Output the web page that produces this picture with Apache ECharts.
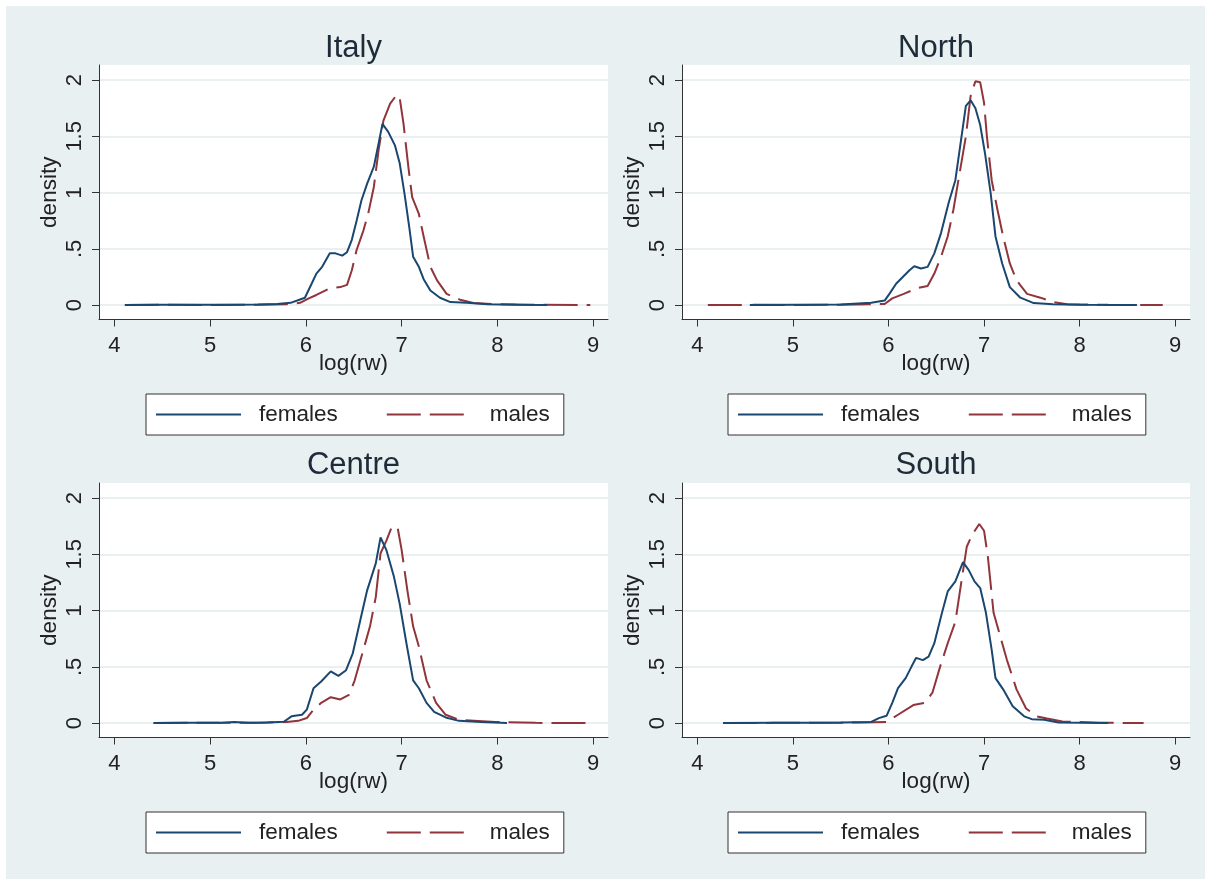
<!DOCTYPE html>
<html><head><meta charset="utf-8">
<script src="https://cdn.jsdelivr.net/npm/echarts@6/dist/echarts.min.js"></script>
<style>
html,body{margin:0;padding:0;background:#fff;}
#bg{position:absolute;left:6px;top:6px;width:1199px;height:873px;background:#e9f0f2;}
#c{position:absolute;left:0;top:0;width:1205px;height:879px;}
</style>
</head><body><div id="bg"></div><div id="c"></div>
<script>
// ---------------- data ----------------
const panelTitles = ['Italy', 'North', 'Centre', 'South'];
const seriesNames = ['females', 'males'];
const xTicks = [4, 5, 6, 7, 8, 9];
const yTicks = [0, 0.5, 1, 1.5, 2];
const xAxisTitle = 'log(rw)';
const yAxisTitle = 'density';

const italyFemales = [[4.11,0],[4.5,0.004],[4.8,0.002],[5.2,0.002],[5.5,0.006],[5.7,0.01],[5.84,0.02],[5.94,0.05],[5.99,0.065],[6.06,0.19],[6.11,0.28],[6.17,0.34],[6.25,0.46],[6.31,0.46],[6.38,0.44],[6.43,0.47],[6.48,0.58],[6.53,0.75],[6.58,0.93],[6.64,1.08],[6.71,1.23],[6.76,1.44],[6.80,1.61],[6.86,1.54],[6.93,1.42],[6.98,1.26],[7.03,0.99],[7.08,0.69],[7.12,0.43],[7.18,0.34],[7.23,0.23],[7.30,0.13],[7.40,0.065],[7.51,0.027],[7.68,0.02],[7.9,0.008],[8.2,0.003],[8.52,0]];
const italyMales = [[4.11,0],[4.5,0.003],[5.0,0.001],[5.5,0.004],[5.8,0.008],[5.94,0.02],[6.03,0.06],[6.11,0.09],[6.25,0.15],[6.36,0.16],[6.43,0.18],[6.48,0.31],[6.53,0.49],[6.60,0.66],[6.65,0.81],[6.71,1.05],[6.76,1.38],[6.81,1.64],[6.88,1.79],[6.95,1.87],[6.98,1.84],[7.02,1.61],[7.07,1.23],[7.11,0.96],[7.18,0.81],[7.23,0.61],[7.30,0.34],[7.37,0.22],[7.47,0.10],[7.61,0.048],[7.75,0.018],[8.0,0.008],[8.4,0.003],[8.97,0]];

const northFemales = [[4.55,0],[5.0,0.002],[5.5,0.005],[5.82,0.02],[5.96,0.04],[6.01,0.10],[6.08,0.19],[6.15,0.25],[6.22,0.31],[6.27,0.345],[6.34,0.325],[6.41,0.34],[6.48,0.46],[6.55,0.64],[6.63,0.91],[6.70,1.11],[6.75,1.41],[6.81,1.77],[6.86,1.82],[6.91,1.75],[6.96,1.60],[7.01,1.35],[7.07,0.99],[7.12,0.61],[7.19,0.37],[7.27,0.16],[7.38,0.066],[7.52,0.018],[7.72,0.008],[8.0,0.002],[8.6,0]];
const northMales = [[4.11,0],[4.6,0.002],[5.0,0.001],[5.5,0.004],[5.8,0.008],[5.96,0.01],[6.04,0.06],[6.16,0.10],[6.30,0.15],[6.41,0.17],[6.48,0.28],[6.55,0.43],[6.62,0.61],[6.68,0.85],[6.75,1.20],[6.81,1.50],[6.86,1.86],[6.91,1.99],[6.96,1.98],[7.00,1.80],[7.03,1.50],[7.08,1.11],[7.14,0.85],[7.20,0.61],[7.27,0.37],[7.34,0.22],[7.45,0.10],[7.59,0.066],[7.73,0.027],[7.87,0.008],[8.3,0.002],[8.87,0]];

const centreFemales = [[4.41,0],[4.8,0.002],[5.1,0.002],[5.25,0.01],[5.4,0.003],[5.6,0.005],[5.77,0.012],[5.85,0.06],[5.96,0.074],[6.01,0.12],[6.08,0.31],[6.16,0.37],[6.26,0.46],[6.34,0.42],[6.42,0.47],[6.49,0.62],[6.57,0.92],[6.64,1.18],[6.73,1.42],[6.78,1.65],[6.80,1.64],[6.84,1.54],[6.92,1.30],[6.98,1.06],[7.05,0.71],[7.12,0.38],[7.18,0.31],[7.26,0.18],[7.34,0.10],[7.46,0.05],[7.60,0.02],[7.83,0.01],[8.1,0]];
const centreMales = [[4.41,0],[4.8,0.003],[5.2,0.002],[5.5,0.004],[5.8,0.01],[5.92,0.02],[6.01,0.045],[6.08,0.12],[6.16,0.18],[6.26,0.23],[6.36,0.21],[6.45,0.25],[6.51,0.38],[6.59,0.62],[6.67,0.86],[6.73,1.12],[6.78,1.51],[6.84,1.62],[6.90,1.75],[6.96,1.73],[7.00,1.54],[7.06,1.18],[7.12,0.86],[7.18,0.68],[7.26,0.38],[7.36,0.18],[7.46,0.074],[7.60,0.03],[7.98,0.01],[8.4,0.002],[8.97,0]];

const southFemales = [[4.27,0],[4.8,0.002],[5.2,0.002],[5.5,0.005],[5.82,0.01],[5.90,0.044],[5.98,0.065],[6.04,0.18],[6.10,0.31],[6.18,0.40],[6.24,0.50],[6.29,0.58],[6.36,0.56],[6.42,0.59],[6.48,0.71],[6.56,0.98],[6.62,1.17],[6.70,1.26],[6.78,1.43],[6.84,1.36],[6.90,1.26],[6.96,1.20],[7.02,0.98],[7.08,0.65],[7.12,0.40],[7.20,0.30],[7.30,0.15],[7.42,0.06],[7.50,0.035],[7.63,0.03],[7.78,0.005],[8.3,0]];
const southMales = [[4.27,0],[4.8,0.002],[5.3,0.002],[5.7,0.005],[5.98,0.01],[6.10,0.074],[6.26,0.16],[6.38,0.18],[6.46,0.27],[6.54,0.50],[6.62,0.71],[6.70,0.90],[6.76,1.24],[6.82,1.57],[6.88,1.68],[6.95,1.77],[7.00,1.71],[7.04,1.48],[7.10,0.98],[7.16,0.80],[7.24,0.56],[7.34,0.30],[7.44,0.13],[7.55,0.06],[7.66,0.04],[7.82,0.015],[8.2,0.003],[8.67,0]];

const panelData = [
  [italyFemales, italyMales],
  [northFemales, northMales],
  [centreFemales, centreMales],
  [southFemales, southMales]
];

// ---------------- layout / style ----------------
const FONT = '"Liberation Sans", Arial, Helvetica, sans-serif';
const layout = [
  {left: 99,  top: 65,  width: 509, legendLeft: 146, legendTop: 394, titleX: 353.5, titleY: 48},
  {left: 682, top: 65,  width: 508, legendLeft: 728, legendTop: 394, titleX: 936,   titleY: 48},
  {left: 99,  top: 483, width: 509, legendLeft: 146, legendTop: 812, titleX: 353.5, titleY: 465},
  {left: 682, top: 483, width: 508, legendLeft: 728, legendTop: 812, titleX: 936,   titleY: 465}
];
const GRID_H = 254.5;
const X_MIN = 3.84, X_MAX = 9.155;
const Y_MIN = -0.128, Y_MAX = 2.134;
const colors = ['#1a476f', '#90353b'];
const DASH = [34, 9];
const AXIS_COLOR = '#333';
const TEXT_COLOR = '#222';

const grids = [], xAxes = [], yAxes = [], series = [], legends = [], graphics = [];

layout.forEach((L, i) => {
  grids.push({
    left: L.left, top: L.top, width: L.width, height: GRID_H,
    show: true, backgroundColor: '#ffffff', borderWidth: 0,
    containLabel: false, outerBoundsMode: 'none'
  });
  xAxes.push({
    gridIndex: i, type: 'value', min: X_MIN, max: X_MAX,
    axisLine: {show: true, onZero: false, lineStyle: {color: AXIS_COLOR, width: 1}},
    axisTick: {show: true, customValues: xTicks, length: 7, lineStyle: {color: AXIS_COLOR, width: 1}},
    axisLabel: {customValues: xTicks, fontSize: 22, color: TEXT_COLOR, fontFamily: FONT, margin: 15},
    splitLine: {show: false},
    name: xAxisTitle, nameLocation: 'middle', nameGap: 33, nameMoveOverlap: false,
    nameTextStyle: {fontSize: 22.5, color: TEXT_COLOR, fontFamily: FONT}
  });
  yAxes.push({
    gridIndex: i, type: 'value', min: Y_MIN, max: Y_MAX,
    axisLine: {show: true, onZero: false, lineStyle: {color: AXIS_COLOR, width: 1}},
    axisTick: {show: true, customValues: yTicks, length: 7, lineStyle: {color: AXIS_COLOR, width: 1}},
    axisLabel: {
      customValues: yTicks, rotate: 90, fontSize: 22, color: TEXT_COLOR, fontFamily: FONT, margin: 13,
      formatter: v => (v === 0.5 ? '.5' : String(v))
    },
    splitLine: {show: true, lineStyle: {color: '#e3ebee', width: 1.5}},
    name: yAxisTitle, nameLocation: 'middle', nameGap: 38, nameRotate: 90, nameMoveOverlap: false,
    nameTextStyle: {fontSize: 22.5, color: TEXT_COLOR, fontFamily: FONT}
  });
  panelData[i].forEach((d, k) => {
    series.push({
      type: 'line', name: seriesNames[k], xAxisIndex: i, yAxisIndex: i,
      data: d, showSymbol: false, symbol: 'none', smooth: false,
      lineStyle: {color: colors[k], width: 2, type: k === 1 ? DASH : 'solid'},
      itemStyle: {color: colors[k]},
      z: k === 1 ? 2 : 3,
      silent: true, animation: false
    });
  });
  legends.push({
    left: L.legendLeft, top: L.legendTop, orient: 'horizontal',
    data: [
      {name: seriesNames[0], lineStyle: {color: colors[0], width: 2, type: 'solid'}},
      {name: seriesNames[1], lineStyle: {color: colors[1], width: 2, type: DASH}}
    ],
    itemWidth: 85, itemHeight: 14, itemGap: 48,
    itemStyle: {opacity: 0},
    padding: [9, 14, 9, 9],
    borderColor: '#333', borderWidth: 1, backgroundColor: '#ffffff',
    selectedMode: false,
    textStyle: {fontSize: 22.5, color: TEXT_COLOR, fontFamily: FONT, padding: [0, 0, 0, 13]}
  });
  graphics.push({
    type: 'text', x: L.titleX, y: L.titleY, silent: true,
    style: {text: panelTitles[i], font: '31px ' + FONT, fill: '#1e2b38', align: 'center', verticalAlign: 'middle'}
  });
});

const chart = echarts.init(document.getElementById('c'), null, {renderer: 'canvas'});
chart.setOption({
  animation: false,
  backgroundColor: 'transparent',
  grid: grids, xAxis: xAxes, yAxis: yAxes, series: series, legend: legends,
  graphic: graphics
});
</script>
</body></html>
